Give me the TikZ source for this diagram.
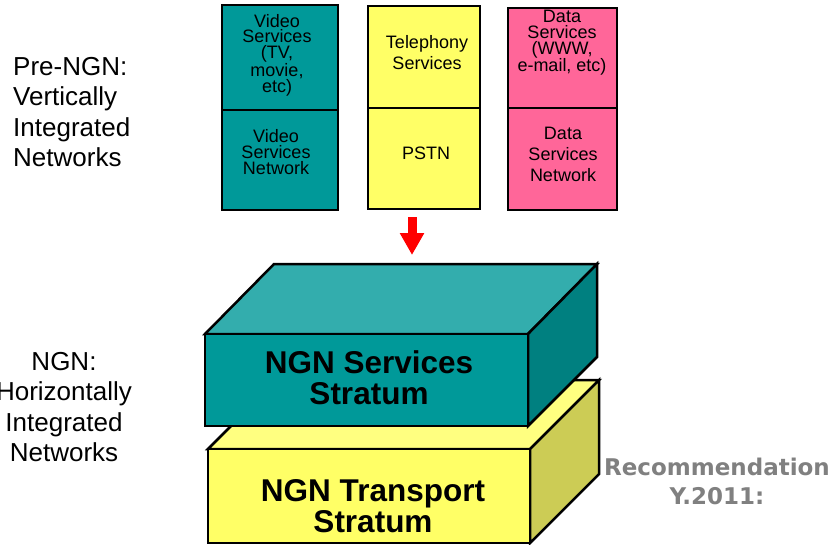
\documentclass[tikz,border=0pt]{standalone}
\usepackage{fontspec}
\setmainfont{Liberation Sans}
\newfontfamily\verdfont{DejaVu Sans}
\usetikzlibrary{arrows.meta}
\definecolor{tealfront}{RGB}{0,153,153}
\definecolor{tealtop}{RGB}{51,173,173}
\definecolor{tealside}{RGB}{0,128,128}
\definecolor{yelfront}{RGB}{255,255,102}
\definecolor{yeltop}{RGB}{255,255,128}
\definecolor{yelside}{RGB}{204,204,85}
\definecolor{pinkbox}{RGB}{255,102,153}
\definecolor{recgray}{RGB}{128,128,128}
\tikzset{
  colbox/.style={draw=black, line width=2pt},
  boxtxt/.style={align=center, inner sep=0pt, font=\fontsize{18}{15.7}\selectfont},
  boxtxtwide/.style={align=center, inner sep=0pt, font=\fontsize{18}{21}\selectfont},
  sidetxt/.style={inner sep=0pt, font=\fontsize{26}{30.5}\selectfont},
  slab/.style={draw=black, line width=2.5pt, line join=miter},
  slabtxt/.style={align=center, inner sep=0pt, font=\fontsize{31.5}{31}\selectfont\bfseries},
  redarrow/.style={draw=red, line width=9pt, -{Triangle[width=23pt,length=22pt]}, shorten >=0pt}
}
\begin{document}
\begin{tikzpicture}[x=1pt,y=-1pt]
\useasboundingbox (0,0) rectangle (837,544);
\clip (0,0) rectangle (837,544);

% --- vertical columns ---
\draw[colbox, fill=tealfront] (222,5) rectangle (338,210);
\draw[colbox] (222,110) -- (338,110);
\draw[colbox, fill=yelfront] (368,6) rectangle (480,209);
\draw[colbox] (368,108) -- (480,108);
\draw[colbox, fill=pinkbox] (508,8) rectangle (617,210);
\draw[colbox] (508,108) -- (617,108);

\node[boxtxt] (vsvc) at (277,55) {Video\\Services\\(TV,\\movie,\\etc)};
\node[boxtxt] (vnet) at (276,152) {Video\\Services\\Network};
\node[boxtxtwide] (tsvc) at (427,53) {Telephony\\Services};
\node[boxtxt] (pstn) at (426,153) {PSTN};
\node[boxtxt] (dsvc) at (562,43) {Data\\Services\\(WWW,\\e-mail, etc)};
\node[boxtxtwide] (dnet) at (563,154) {Data\\Services\\Network};

% --- side labels ---
\node[sidetxt, align=left, anchor=west] (prengn) at (13,112) {Pre-NGN:\\Vertically\\Integrated\\Networks};
\node[sidetxt, align=center] (ngn) at (64,407) {NGN:\\Horizontally\\Integrated\\Networks};

% --- arrow ---
\coordinate (arrtop) at (412,217);
\coordinate (arrtip) at (412,255);
\draw[redarrow] (arrtop) -- (arrtip);

% --- transport slab (behind) ---
\draw[slab, fill=yeltop] (208,449) -- (277,380) -- (599,380) -- (530,449) -- cycle;
\draw[slab, fill=yelside] (530,449) -- (599,380) -- (599,474) -- (530,543) -- cycle;
\draw[slab, fill=yelfront] (208,449) rectangle (530,543);
\node[slabtxt] (trans) at (373,506) {NGN Transport\\Stratum};

% --- services slab ---
\draw[slab, fill=tealtop] (205,334) -- (274,264) -- (597,264) -- (528,334) -- cycle;
\draw[slab, fill=tealside] (528,334) -- (597,264) -- (597,357) -- (528,426) -- cycle;
\draw[slab, fill=tealfront] (205,334) rectangle (528,426);
\node[slabtxt] (serv) at (369,378) {NGN Services\\Stratum};

% --- recommendation ---
\node[align=center, inner sep=0pt, text=recgray, font=\verdfont\bfseries\fontsize{23}{29}\selectfont] (rec) at (717,481) {Recommendation\\Y.2011:};
\end{tikzpicture}
\end{document}
